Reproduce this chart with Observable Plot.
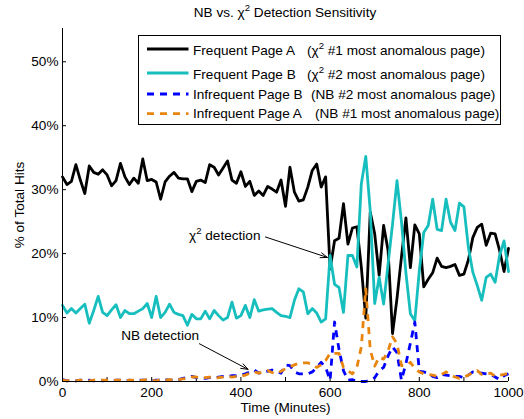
<!DOCTYPE html>
<html><head><meta charset="utf-8">
<script src="https://cdn.jsdelivr.net/npm/d3@7"></script>
<script src="https://cdn.jsdelivr.net/npm/@observablehq/plot@0.6"></script>
<style>
body{margin:0;background:#fff;}
#wrap{position:relative;width:524px;height:419px;font-family:"Liberation Sans",Arial,sans-serif;font-size:13.6px;color:#000;overflow:hidden;}
.ov{position:absolute;white-space:pre;line-height:1;}
.sup{font-size:9.5px;position:relative;top:-6px;}
#legend{position:absolute;left:138px;top:35px;width:361px;height:88px;border:1.5px solid #000;background:#fff;}
</style></head><body><div id="wrap"></div>
<script>
const minutes = [0,10,20,30,40,50,60,70,80,90,100,110,120,130,140,150,160,170,180,190,200,210,220,230,240,250,260,270,280,290,300,310,320,330,340,350,360,370,380,390,400,410,420,430,440,450,460,470,480,490,500,510,520,530,540,550,560,570,580,590,600,610,620,630,640,650,660,670,680,690,700,710,720,730,740,750,760,770,780,790,800,810,820,830,840,850,860,870,880,890,900,910,920,930,940,950,960,970,980,990,1000];

const freqA = [32.0,30.8,31.3,33.9,31.5,29.4,33.7,32.7,32.4,33.1, 32.3,30.6,31.4,34.1,32.0,30.8,31.8,31.0,34.8,31.4, 31.6,31.2,28.5,31.2,32.1,32.7,31.8,31.7,31.7,29.7, 31.3,31.5,31.1,33.9,33.5,32.3,33.4,34.5,31.5,31.0, 32.8,30.5,31.3,29.1,29.8,29.1,30.5,30.1,29.6,31.5, 27.4,33.5,29.6,28.2,28.4,30.4,33.0,34.0,30.4,32.0, 17.6,22.0,22.4,27.8,21.5,24.0,24.2,17.9,9.9,26.5, 23.1,16.6,24.4,20.5,7.5,13.0,19.5,25.6,17.8,24.5, 23.1,14.8,16.0,17.0,19.3,18.0,17.8,18.0,18.3,16.6, 16.8,19.0,22.5,24.1,24.6,21.3,23.2,23.1,20.5,17.2, 20.8];

const freqB = [11.9,10.7,11.4,10.7,11.4,12.1,9.1,11.1,13.3,10.8, 10.3,11.2,12.0,10.0,11.1,10.6,10.6,11.0,11.4,12.2, 10.0,13.3,10.0,10.8,12.1,10.8,10.5,10.3,8.8,10.5, 9.8,9.8,11.0,9.8,11.1,10.3,9.6,10.0,12.4,9.9, 10.3,11.9,10.0,12.8,11.0,11.2,11.3,11.4,10.8,10.3, 10.2,10.0,12.7,14.5,14.0,10.6,11.4,10.7,9.3,9.8, 19.7,15.2,14.7,10.8,19.7,19.7,17.9,30.9,35.2,26.7, 12.2,16.3,12.1,18.4,24.6,31.4,25.0,17.0,10.6,9.5, 17.3,23.3,24.4,28.5,23.8,23.6,28.5,24.9,23.6,27.9, 27.3,21.0,17.1,15.0,12.7,16.3,16.8,15.5,19.7,22.0, 17.2];

const infreqB = [0.3,0.1,0.2,0.1,0.2,0.1,0.2,0.1,0.2,0.1, 0.2,0.1,0.2,0.2,0.1,0.2,0.1,0.2,0.2,0.2, 0.1,0.2,0.2,0.3,0.2,0.3,0.3,0.5,0.6,0.8, 0.6,0.5,0.5,0.6,0.6,0.7,0.8,0.8,0.9,0.9, 1.0,1.2,1.5,1.8,1.3,1.4,1.6,1.8,1.6,1.3, 2.6,2.5,1.5,1.2,1.2,1.2,1.5,2.2,3.0,2.2, 0.2,9.3,5.0,1.7,0.2,0.3,0.0,0.0,0.0,0.2, 0.6,1.7,2.2,4.0,5.4,4.5,0.2,2.8,6.0,9.3, 1.6,1.5,1.3,0.8,0.6,1.1,1.0,0.9,0.8,0.8, 0.6,1.0,1.5,1.4,1.3,1.2,1.1,0.7,0.3,0.9, 1.2];

const infreqA = [0.2,0.1,0.2,0.1,0.2,0.2,0.1,0.2,0.3,0.2, 0.2,0.1,0.2,0.2,0.1,0.2,0.2,0.1,0.2,0.3, 0.2,0.1,0.3,0.2,0.3,0.2,0.3,0.4,0.5,0.7, 0.7,0.5,0.6,0.7,0.5,0.6,0.7,0.8,0.7,0.8, 0.8,1.0,1.3,1.5,1.3,1.5,1.7,1.4,1.2,1.6, 2.0,2.3,2.6,2.9,2.9,2.9,2.7,2.2,2.6,3.3, 4.4,4.4,4.4,2.2,1.7,1.2,2.2,5.4,14.5,5.0, 2.4,3.8,3.5,4.8,7.0,5.9,2.5,2.5,3.0,2.0, 1.5,1.2,1.1,1.0,0.8,1.1,1.5,1.0,0.7,0.5, 0.7,1.0,1.4,1.7,1.1,1.2,1.3,0.8,1.0,1.1, 1.3];

const seriesNames = ["Frequent Page A", "Frequent Page B", "Infrequent Page B", "Infrequent Page A"];
const seriesNotes = ["(χ<span class='sup'>2</span> #1 most anomalous page)", "(χ<span class='sup'>2</span> #2 most anomalous page)", "(NB #2 most anomalous page)", "(NB #1 most anomalous page)"];
const xTickLabels = [0, 200, 400, 600, 800, 1000];
const xMinorTicks = [0, 100, 200, 300, 400, 500, 600, 700, 800, 900, 1000];
const yTicks = [0, 10, 20, 30, 40, 50];
const titleHtml = "NB vs. χ<span class='sup'>2</span> Detection Sensitivity";

// annotations in data units: label centre and arrow start/end
const annotations = [
  {html: "χ<span class='sup'>2</span> detection", tx: 365, ty: 22.7, x1: 455, y1: 22.6, x2: 594, y2: 19.4},
  {html: "NB detection", tx: 220, ty: 7.2, x1: 307, y1: 5.9, x2: 416, y2: 1.9}
];

const colors = ["#000000", "#17BEBE", "#0000FF", "#E8850F"];
const dashes = [null, null, "7,6", "7,6"];
const values = [freqA, freqB, infreqB, infreqA];

const font = '"Liberation Sans", Arial, sans-serif';

const lineMarks = values.map((vals, i) =>
  Plot.line(minutes, {x: (d) => d, y: (d, j) => vals[j], stroke: colors[i], strokeWidth: 2.8,
    strokeDasharray: dashes[i] || undefined, strokeLinecap: dashes[i] ? "butt" : "round", strokeLinejoin: "round"})
);

const plot = Plot.plot({
  width: 524, height: 419,
  marginLeft: 62, marginRight: 16, marginTop: 28, marginBottom: 38,
  style: {fontFamily: font, fontSize: "13.6px", background: "#fff", color: "#000"},
  x: {domain: [0, 1000]},
  y: {domain: [0, 55.2]},
  marks: [
    Plot.axisX({ticks: xMinorTicks, tickSize: -4, tickFormat: () => "", label: null}),
    Plot.axisX({ticks: xTickLabels, tickSize: 0, tickPadding: 6, tickFormat: (d) => String(d), label: "Time (Minutes)", labelAnchor: "center", labelArrow: "none", labelOffset: 30}),
    Plot.axisY({ticks: yTicks, tickSize: -4, tickPadding: 8, tickFormat: (d) => d + "%", label: "% of Total Hits", labelAnchor: "center", labelArrow: "none", labelOffset: 48}),
    ...lineMarks,
    Plot.ruleX([0], {stroke: "#000", strokeWidth: 1}),
    Plot.ruleY([0], {stroke: "#000", strokeWidth: 1}),
    Plot.arrow(annotations, {x1: "x1", y1: "y1", x2: "x2", y2: "y2", stroke: "#000", strokeWidth: 1, headLength: 11, headAngle: 40})
  ]
});

const wrap = document.getElementById("wrap");
wrap.appendChild(plot);
const xs = plot.scale("x"), ys = plot.scale("y");

function addText(html, left, baseline, anchor) {
  const el = document.createElement("div");
  el.className = "ov";
  el.innerHTML = html;
  wrap.appendChild(el);
  const w = el.getBoundingClientRect().width;
  let l = left;
  if (anchor === "middle") l = left - w / 2;
  el.style.left = l + "px";
  el.style.top = (baseline - 11.4) + "px";
  return el;
}

// title
addText(titleHtml, 285, 17.5, "middle");

// annotation labels, placed through the plot's scales
annotations.forEach(a => {
  const px = xs.apply(a.tx), py = ys.apply(a.ty);
  addText(a.html, px, py + 5, "middle");
});

// legend
const legend = document.createElement("div");
legend.id = "legend";
wrap.appendChild(legend);
const rowLine = [49, 73, 94, 113.7];
const rowBase = [55.7, 79.7, 99, 118.7];
const noteX = [307, 307, 311, 315];
const ns = "http://www.w3.org/2000/svg";
const lsvg = document.createElementNS(ns, "svg");
lsvg.setAttribute("width", 524); lsvg.setAttribute("height", 419);
lsvg.style.position = "absolute"; lsvg.style.left = "0px"; lsvg.style.top = "0px";
wrap.appendChild(lsvg);
seriesNames.forEach((name, i) => {
  const ln = document.createElementNS(ns, "line");
  ln.setAttribute("x1", 147); ln.setAttribute("x2", 188.5);
  ln.setAttribute("y1", rowLine[i]); ln.setAttribute("y2", rowLine[i]);
  ln.setAttribute("stroke", colors[i]); ln.setAttribute("stroke-width", 2.8);
  if (dashes[i]) ln.setAttribute("stroke-dasharray", dashes[i]);
  lsvg.appendChild(ln);
  addText(name, 193, rowBase[i]);
  addText(seriesNotes[i], noteX[i], rowBase[i]);
});
</script>
</body></html>
